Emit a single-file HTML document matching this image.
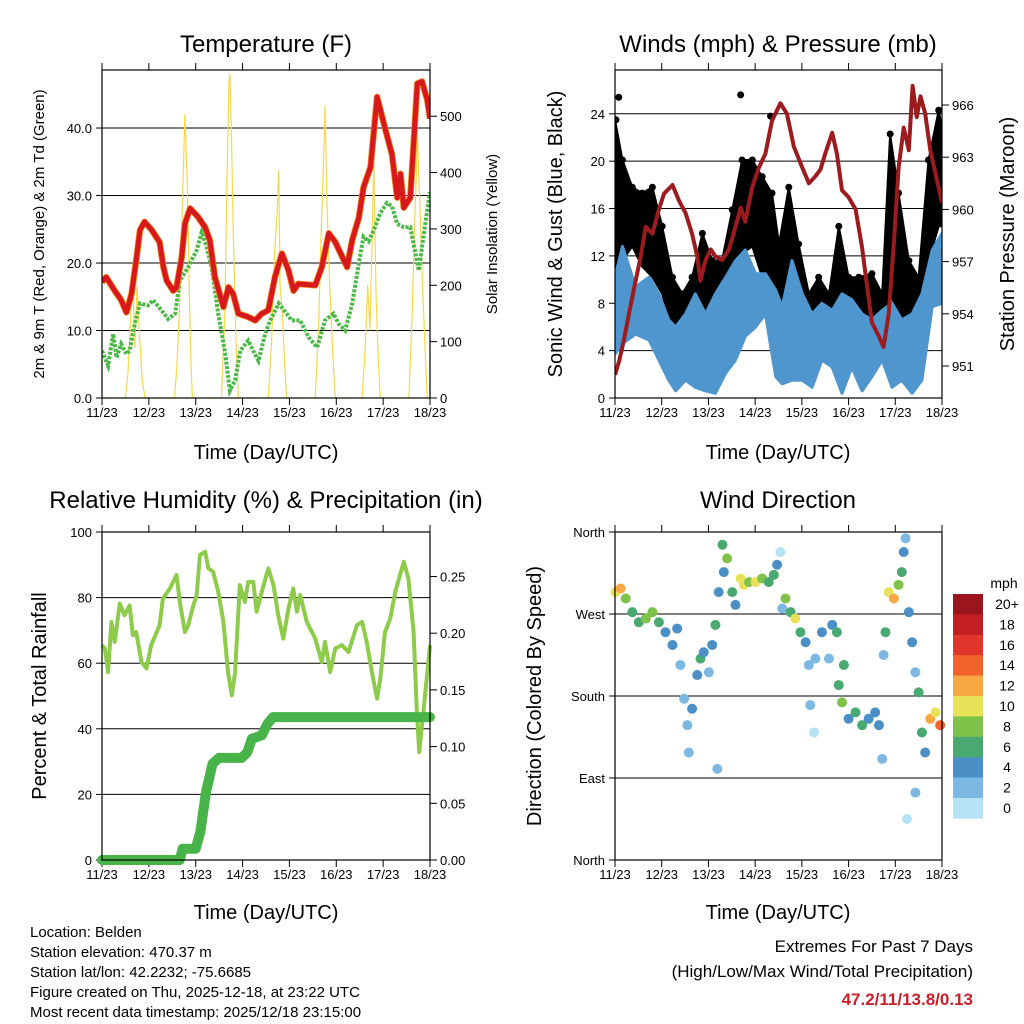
<!DOCTYPE html>
<html><head><meta charset="utf-8"><style>
html,body{margin:0;padding:0;background:#fff;}
svg{display:block;font-family:"Liberation Sans",sans-serif;}
</style></head><body>
<svg id="root" xmlns="http://www.w3.org/2000/svg" width="1024" height="1024" viewBox="0 0 1024 1024">
<defs>
<clipPath id="c1"><rect x="102" y="70" width="328" height="328"/></clipPath>
<clipPath id="c2"><rect x="615" y="70" width="327" height="328"/></clipPath>
<clipPath id="c3"><rect x="95" y="525" width="345" height="340"/></clipPath>
</defs>
<rect width="1024" height="1024" fill="#fff"/>
<g id="g1"></g>
<g id="g2"></g>
<g id="g3"></g>
<g id="g4"></g>
<text x="266" y="52" font-size="24" text-anchor="middle">Temperature (F)</text>
<text x="778" y="52" font-size="24" text-anchor="middle">Winds (mph) &amp; Pressure (mb)</text>
<text x="266" y="508" font-size="24" text-anchor="middle">Relative Humidity (%) &amp; Precipitation (in)</text>
<text x="778" y="508" font-size="24" text-anchor="middle">Wind Direction</text>
<text x="266" y="459" font-size="20" text-anchor="middle">Time (Day/UTC)</text>
<text x="778" y="459" font-size="20" text-anchor="middle">Time (Day/UTC)</text>
<text x="266" y="919" font-size="20" text-anchor="middle">Time (Day/UTC)</text>
<text x="778" y="919" font-size="20" text-anchor="middle">Time (Day/UTC)</text>
<text transform="translate(44,234) rotate(-90)" font-size="15" text-anchor="middle">2m &amp; 9m T (Red, Orange) &amp; 2m Td (Green)</text>
<text transform="translate(497,234) rotate(-90)" font-size="15" text-anchor="middle">Solar Insolation (Yellow)</text>
<text transform="translate(562,234) rotate(-90)" font-size="20" text-anchor="middle">Sonic Wind &amp; Gust (Blue, Black)</text>
<text transform="translate(1014,234) rotate(-90)" font-size="20" text-anchor="middle">Station Pressure (Maroon)</text>
<text transform="translate(46,696) rotate(-90)" font-size="20" text-anchor="middle">Percent &amp; Total Rainfall</text>
<text transform="translate(541,696) rotate(-90)" font-size="20" text-anchor="middle">Direction (Colored By Speed)</text>
<g font-size="15">
<text x="30" y="937">Location: Belden</text>
<text x="30" y="957">Station elevation: 470.37 m</text>
<text x="30" y="977">Station lat/lon: 42.2232; -75.6685</text>
<text x="30" y="997">Figure created on Thu, 2025-12-18, at 23:22 UTC</text>
<text x="30" y="1017">Most recent data timestamp: 2025/12/18 23:15:00</text>
</g>
<text x="973" y="952" font-size="17" text-anchor="end">Extremes For Past 7 Days</text>
<text x="973" y="977" font-size="17" text-anchor="end">(High/Low/Max Wind/Total Precipitation)</text>
<text x="973" y="1005" font-size="17" font-weight="bold" fill="#c8202a" text-anchor="end">47.2/11/13.8/0.13</text>
</svg>
<script>
// ---- data ----
const dayLabels = ["11/23","12/23","13/23","14/23","15/23","16/23","17/23","18/23"];
const tempT = [0,.09,.27,.41,.52,.63,.73,.81,.91,1.06,1.23,1.31,1.38,1.52,1.59,1.70,1.77,1.88,2.05,2.20,2.30,2.41,2.59,2.70,2.80,2.91,3.12,3.27,3.41,3.55,3.69,3.84,3.98,4.09,4.19,4.55,4.69,4.84,4.98,5.23,5.34,5.48,5.58,5.73,5.87,6.05,6.19,6.30,6.37,6.44,6.58,6.73,6.83,6.94,7.0];
const tempV = [17.2,17.9,15.9,14.5,12.7,15.4,20.4,24.9,26.1,24.9,23.1,19.4,17.4,15.9,16.4,20.8,25.8,28.1,26.8,25.3,23.4,17.9,13.5,16.4,15.4,12.5,12.0,11.5,12.5,13.0,17.9,21.4,18.9,15.9,16.9,16.7,19.4,24.4,23.1,19.4,23.4,26.7,31.2,34.2,44.6,39.7,36.1,29.7,33.2,28.2,29.7,46.6,46.9,44.2,41.4];
const dewT = [0,.13,.24,.31,.41,.52,.59,.70,.81,.98,1.09,1.27,1.41,1.56,1.66,1.84,2.02,2.13,2.23,2.34,2.48,2.62,2.73,2.84,2.95,3.12,3.23,3.34,3.48,3.59,3.77,3.94,4.05,4.23,4.41,4.59,4.76,4.94,5.05,5.19,5.34,5.48,5.58,5.69,5.80,5.94,6.08,6.19,6.30,6.44,6.58,6.76,6.87,7.0];
const dewV = [7.0,4.8,9.5,6.0,8.0,6.5,7.0,11.0,14.0,13.7,14.5,13.0,11.7,12.5,17.4,19.4,21.9,24.6,22.4,19.4,12.5,7.0,1.1,2.6,7.0,8.5,7.0,5.5,9.5,11.5,14.0,12.5,11.5,11.5,9.0,7.5,11.5,12.5,11.0,10.0,14.0,19.9,23.9,23.2,24.9,27.4,28.9,28.4,25.8,25.3,25.3,18.9,24.4,30.5];
const solarT = [0,0.5,0.55,0.6,0.65,0.7,0.75,0.8,0.86,0.92,1.55,1.6,1.65,1.7,1.77,1.82,1.86,1.9,1.93,2.55,2.62,2.67,2.71,2.73,2.76,2.8,2.86,2.91,3.55,3.62,3.68,3.74,3.77,3.8,3.85,3.9,3.94,4.55,4.62,4.68,4.73,4.76,4.8,4.86,4.92,4.98,5.55,5.62,5.67,5.72,5.77,5.8,5.85,5.9,5.94,6.55,6.62,6.67,6.71,6.73,6.78,6.84,6.9,6.94,7.0];
const solarV = [0,0,40,120,220,90,200,110,30,0,0,60,150,300,504,380,200,60,0,0,150,400,560,575,480,300,100,0,0,100,250,330,404,200,150,60,0,0,120,300,420,519,350,200,90,0,0,90,200,120,300,421,180,60,0,0,150,300,400,475,350,200,80,0,0];
const presT = [0,.09,.19,.30,.41,.55,.66,.80,.94,1.05,1.23,1.37,1.51,1.65,1.76,1.83,1.94,2.05,2.15,2.30,2.44,2.58,2.69,2.79,2.94,3.08,3.22,3.36,3.54,3.68,3.83,4.01,4.15,4.29,4.40,4.50,4.65,4.75,4.86,5.00,5.15,5.29,5.40,5.50,5.65,5.75,5.86,5.97,6.07,6.18,6.29,6.37,6.46,6.54,6.64,6.75,6.89,7.0];
const presV = [950.5,951.3,952.5,954.0,955.5,957.3,959.0,958.6,960.0,960.9,961.4,960.5,959.8,958.6,957.3,955.9,957.1,957.7,957.3,957.1,957.7,959.0,960.1,959.3,961.3,962.4,963.2,965.1,966.1,965.5,963.6,962.4,961.5,961.9,962.3,963.2,964.4,963.2,961.1,960.7,960.0,957.8,955.5,953.5,952.7,952.1,954.0,958.1,962.4,964.7,963.4,967.1,965.3,966.5,965.5,963.4,961.7,960.4];
const windT = [0,.16,.44,.73,.94,1.15,1.30,1.51,1.72,1.94,2.15,2.37,2.58,2.79,3.01,3.22,3.44,3.58,3.79,4.01,4.22,4.43,4.65,4.86,5.07,5.29,5.50,5.72,5.93,6.14,6.36,6.57,6.79,7.0];
const windHi = [10.2,12.8,9.4,10.2,8.8,6.6,6.0,7.1,8.8,7.1,8.8,10.2,11.6,12.5,10.5,10.5,9.1,7.7,11.6,8.8,7.1,8.0,7.4,8.8,8.3,7.1,6.6,7.4,8.0,6.6,7.1,8.8,12.5,13.9];
const windLo = [3.7,4.6,5.4,4.9,3.2,1.5,0.6,1.5,0.9,0.6,0.4,2.1,3.2,5.2,6.0,7.1,1.8,1.2,1.5,1.5,0.9,3.2,2.6,0.4,2.6,0.6,1.8,3.2,0.9,1.5,0.4,1.5,7.7,8.0];
const gustT = [0,.16,.37,.58,.80,1.01,1.23,1.44,1.65,1.87,2.08,2.29,2.51,2.72,2.94,3.15,3.36,3.51,3.72,3.93,4.15,4.36,4.58,4.79,5.00,5.22,5.50,5.72,5.89,6.07,6.29,6.50,6.71,6.93,7.0];
const gustHi = [23.5,20.1,17.8,17.3,17.8,14.5,10.2,8.8,10.2,13.9,11.6,11.6,15.9,20.1,20.1,18.7,17.3,13.0,17.8,13.0,8.8,10.2,8.8,14.5,10.2,10.2,10.5,8.8,22.3,17.3,11.6,10.2,20.1,24.3,22.9];
const gustLo = [10.2,11.6,12.8,11.1,10.2,8.8,5.4,4.6,6.0,4.6,6.0,6.6,8.8,12.2,12.8,10.2,8.8,6.0,11.1,6.0,4.6,4.6,3.7,6.0,4.6,4.9,5.4,4.9,8.8,7.1,5.4,6.6,11.6,14.5,14.5];
const gustPeakT = [0.08,0.02,2.69,3.33];
const gustPeakV = [25.4,23.5,25.6,23.8];
const rhT = [0,.06,.13,.20,.27,.38,.48,.59,.66,.73,.84,.95,1.05,1.23,1.30,1.45,1.59,1.66,1.77,1.84,1.95,2.02,2.09,2.20,2.27,2.37,2.48,2.59,2.69,2.77,2.84,2.94,3.05,3.12,3.23,3.30,3.41,3.55,3.66,3.76,3.87,3.98,4.08,4.16,4.23,4.37,4.55,4.69,4.76,4.87,4.98,5.12,5.26,5.44,5.55,5.65,5.76,5.87,5.94,6.04,6.15,6.26,6.36,6.44,6.54,6.65,6.72,6.77,6.86,7.0];
const rhV = [65.5,64.5,57.3,72.6,66.5,78.2,74.6,77.6,68.5,69.5,60.4,58.4,65.5,71.6,79.7,82.8,86.9,78.7,69.5,71.6,77.7,80.8,93.0,94.0,88.9,87.9,81.8,72.6,57.3,50.2,57.3,83.8,78.7,84.8,84.8,75.7,81.8,88.9,83.8,74.6,67.5,76.7,82.8,75.7,80.8,72.6,67.5,60.4,66.5,57.3,64.5,65.5,63.4,71.6,72.6,66.5,57.3,49.2,55.3,69.5,73.6,81.8,86.9,90.9,85.8,69.5,45.1,32.9,45.1,65.5];
const rainT = [0,1.66,1.72,2.0,2.1,2.22,2.36,2.5,2.98,3.1,3.2,3.41,3.53,3.65,7.0];
const rainV = [0,0,0.01,0.01,0.025,0.06,0.085,0.09,0.09,0.095,0.107,0.11,0.12,0.126,0.126];
const dirT = [.01,.12,.23,.37,.51,.66,.80,.94,1.08,1.23,1.33,1.40,1.48,1.55,1.58,1.65,1.76,1.83,1.90,2.01,2.08,2.15,2.19,2.22,2.30,2.33,2.40,2.51,2.58,2.69,2.76,2.87,3.01,3.15,3.29,3.40,3.47,3.54,3.58,3.65,3.76,3.86,3.97,4.08,4.15,4.18,4.26,4.29,4.43,4.58,4.65,4.75,4.79,4.86,4.90,5.00,5.15,5.29,5.43,5.57,5.65,5.72,5.75,5.79,5.86,5.97,6.07,6.14,6.18,6.22,6.25,6.29,6.36,6.43,6.43,6.50,6.57,6.64,6.75,6.86,6.96];
const dirV = [294,298,287,272,261,265,272,261,250,236,254,214,177,148,118,166,203,221,228,206,236,258,100,294,346,316,331,294,280,309,302,305,305,309,305,313,324,338,276,287,272,265,250,239,214,170,140,221,250,221,258,250,192,173,214,155,162,148,155,162,148,111,225,250,294,287,302,316,338,353,45,272,239,206,74,184,140,118,155,162,148];
const dirS = [10,12,8,7,7,8,9,6,5,4,5,3,2,3,2,4,4,6,5,3,4,6,3,4,6,5,9,6,4,10,11,8,10,8,7,7,5,1,3,8,6,10,7,5,2,2,1,3,4,2,5,6,7,8,6,4,6,7,4,4,4,2,3,6,10,13,8,6,4,2,1,4,4,3,2,6,7,4,12,10,14];
const speedLabels = ["20+","18","16","14","12","10","8","6","4","2","0"];
const speedColors = ["#9b161c","#c41e25","#e0352a","#f2622a","#f8a843","#e8e25a","#7ec24a","#4aa970","#4a8fc6","#7db8e3","#b6e2f6"];
const tempTicks = [0,10,20,30,40];
const solarTicks = [0,100,200,300,400,500];
const windTicks = [0,4,8,12,16,20,24];
const presTicks = [951,954,957,960,963,966];
const rhTicks = [0,20,40,60,80,100];
const rainTicks = [0,0.05,0.10,0.15,0.20,0.25];
const dirTicks = [0,90,180,270,360];
const dirNames = ["North","East","South","West","North"];

// ---- helpers ----
const NS = "http://www.w3.org/2000/svg";
function mk(tag, parent, attrs) {
  const e = document.createElementNS(NS, tag);
  for (const k in attrs) e.setAttribute(k, attrs[k]);
  parent.appendChild(e);
  return e;
}
const P1 = {x0:102,x1:430,y0:70,y1:398}, P2 = {x0:615,x1:942,y0:70,y1:398};
const P3 = {x0:102,x1:430,y0:532,y1:860}, P4 = {x0:615,x1:942,y0:532,y1:860};
function xT(p,t){ return p.x0 + t/7*(p.x1-p.x0); }
const yTemp = v => 398 - v/48.6*328;
const ySolar = v => 398 - v/582*328;
const yWind = v => 398 - v/27.7*328;
const yPres = v => 366 - (v-951)*17.4;
const yRh = v => 860 - v/100*328;
const yRain = v => 860 - v/0.05*56.7;
const yDir = v => 860 - v/360*328;
function pts(p, ts, vs, yf){ return ts.map((t,i)=>xT(p,t).toFixed(1)+","+yf(vs[i]).toFixed(1)).join(" "); }

function frame(g, p){
  dayLabels.forEach((lab,i)=>{
    const x = xT(p,i);
    const tb = mk("line", g, {x1:x,x2:x,y1:p.y1,y2:p.y1+7,stroke:"#000","stroke-width":1});
    
    
    const tt = mk("line", g, {x1:x,x2:x,y1:p.y0,y2:p.y0-7,stroke:"#000","stroke-width":1});
    
    
    const tx = mk("text", g, {x:x,y:p.y1+19,"font-size":13,"text-anchor":"middle"});
    tx.textContent = lab;
    
    
  });
}
function leftAxis(g, p, ticks, yf, fmt, grid){
  ticks.forEach(v=>{
    const y = yf(v);
    if (grid && y > p.y0+2 && y < p.y1-2) {
      const gl = mk("line", g, {x1:p.x0,x2:p.x1,y1:y,y2:y,stroke:"#000","stroke-width":1});
      
      
    }
    const t = mk("line", g, {x1:p.x0-6,x2:p.x0,y1:y,y2:y,stroke:"#000","stroke-width":1});
    
    
    const tx = mk("text", g, {x:p.x0-10,y:y+5,"font-size":13,"text-anchor":"end"});
    tx.textContent = fmt(v);
    
    
  });
}
function rightAxis(g, p, ticks, yf, fmt){
  ticks.forEach(v=>{
    const y = yf(v);
    const t = mk("line", g, {x1:p.x1,x2:p.x1+7,y1:y,y2:y,stroke:"#000","stroke-width":1});
    
    
    const tx = mk("text", g, {x:p.x1+10,y:y+5,"font-size":13,"text-anchor":"start"});
    tx.textContent = fmt(v);
    
    
  });
}
function border(g,p){
  const b = mk("rect", g, {x:p.x0,y:p.y0,width:p.x1-p.x0,height:p.y1-p.y0,fill:"none",stroke:"#000","stroke-width":1.2});
  
  
}

// ---- panel 1 ----
const g1 = document.getElementById("g1");
frame(g1,P1);
leftAxis(g1,P1,tempTicks,yTemp,v=>v.toFixed(1),true);
rightAxis(g1,P1,solarTicks,ySolar,v=>String(v));
const m1 = mk("g", g1, {"clip-path":"url(#c1)"});


const solar = mk("polyline", m1, {points:pts(P1,solarT,solarV,ySolar),fill:"none",stroke:"#f7d84a","stroke-width":1.2});


const dew = mk("polyline", m1, {points:pts(P1,dewT,dewV,yTemp),fill:"none",stroke:"#4cb847","stroke-width":4,"stroke-dasharray":"3 1.5"});


const t9 = mk("polyline", m1, {points:pts(P1,tempT,tempV,yTemp),fill:"none",stroke:"#f08a24","stroke-width":6.5,"stroke-linejoin":"round"});


const t2 = mk("polyline", m1, {points:pts(P1,tempT,tempV,yTemp),fill:"none",stroke:"#d7191c","stroke-width":5,"stroke-linejoin":"round"});


border(g1,P1);

// ---- panel 2 ----
const g2 = document.getElementById("g2");
frame(g2,P2);
leftAxis(g2,P2,windTicks,yWind,v=>String(v),true);
rightAxis(g2,P2,presTicks,yPres,v=>String(v));
const m2 = mk("g", g2, {"clip-path":"url(#c2)"});


const gustPoly = gustT.map((t,i)=>xT(P2,t).toFixed(1)+","+yWind(gustHi[i]).toFixed(1)).concat(gustT.slice().reverse().map((t,j)=>{const i=gustT.length-1-j;return xT(P2,t).toFixed(1)+","+yWind(gustLo[i]).toFixed(1);})).join(" ");
const gb = mk("polygon", m2, {points:gustPoly,fill:"#000",stroke:"#000","stroke-width":2,"stroke-linejoin":"round"});


gustT.forEach((t,i)=>{
  const d = mk("circle", m2, {cx:xT(P2,t),cy:yWind(gustHi[i]),r:3.5,fill:"#000"});
  
  
});
gustPeakT.forEach((t,i)=>{
  const d = mk("circle", m2, {cx:xT(P2,t),cy:yWind(gustPeakV[i]),r:3.5,fill:"#000"});
  
  
});
const windPoly = windT.map((t,i)=>xT(P2,t).toFixed(1)+","+yWind(windHi[i]).toFixed(1)).concat(windT.slice().reverse().map((t,j)=>{const i=windT.length-1-j;return xT(P2,t).toFixed(1)+","+yWind(windLo[i]).toFixed(1);})).join(" ");
const wb = mk("polygon", m2, {points:windPoly,fill:"#4f96cf",stroke:"#4f96cf","stroke-width":3,"stroke-linejoin":"round"});


const pr = mk("polyline", m2, {points:pts(P2,presT,presV,yPres),fill:"none",stroke:"#9b1b1e","stroke-width":4,"stroke-linejoin":"round"});


border(g2,P2);

// ---- panel 3 ----
const g3 = document.getElementById("g3");
frame(g3,P3);
leftAxis(g3,P3,rhTicks,yRh,v=>String(v),true);
rightAxis(g3,P3,rainTicks,yRain,v=>v.toFixed(2));
const rh = mk("polyline", g3, {points:pts(P3,rhT,rhV,yRh),fill:"none",stroke:"#8fcb4b","stroke-width":4,"stroke-linejoin":"round"});


const rain = mk("polyline", g3, {points:pts(P3,rainT,rainV,yRain),fill:"none",stroke:"#48b348","stroke-width":10,"stroke-linejoin":"round","stroke-linecap":"round"});


border(g3,P3);

// ---- panel 4 ----
const g4 = document.getElementById("g4");
frame(g4,P4);
dirTicks.forEach((v,i)=>{
  const y = yDir(v);
  if (y > P4.y0+2 && y < P4.y1-2) {
    const gl = mk("line", g4, {x1:P4.x0,x2:P4.x1,y1:y,y2:y,stroke:"#000","stroke-width":1});
    
    
  }
  const t = mk("line", g4, {x1:P4.x0-6,x2:P4.x0,y1:y,y2:y,stroke:"#000","stroke-width":1});
  
  
  const tx = mk("text", g4, {x:P4.x0-10,y:y+5,"font-size":13,"text-anchor":"end"});
  tx.textContent = dirNames[i];
  
  
});
function speedColor(s){ let k = Math.min(10, Math.floor(s/2)); return speedColors[10-k]; }
dirT.forEach((t,i)=>{
  const c = mk("circle", g4, {cx:xT(P4,t),cy:yDir(dirV[i]),r:5,fill:speedColor(dirS[i])});
  
  
});
border(g4,P4);
const cbTop = 594, cbH = 20.4;
const mphT = mk("text", g4, {x:1004,y:588,"font-size":14,"text-anchor":"middle"});
mphT.textContent = "mph";


speedLabels.forEach((lab,i)=>{
  const r = mk("rect", g4, {x:953,y:cbTop+i*cbH,width:30,height:cbH+0.3,fill:speedColors[i]});
  
  
  const tx = mk("text", g4, {x:1007,y:cbTop+i*cbH+15,"font-size":14,"text-anchor":"middle"});
  tx.textContent = lab;
  
  
});
</script>
</body></html>
